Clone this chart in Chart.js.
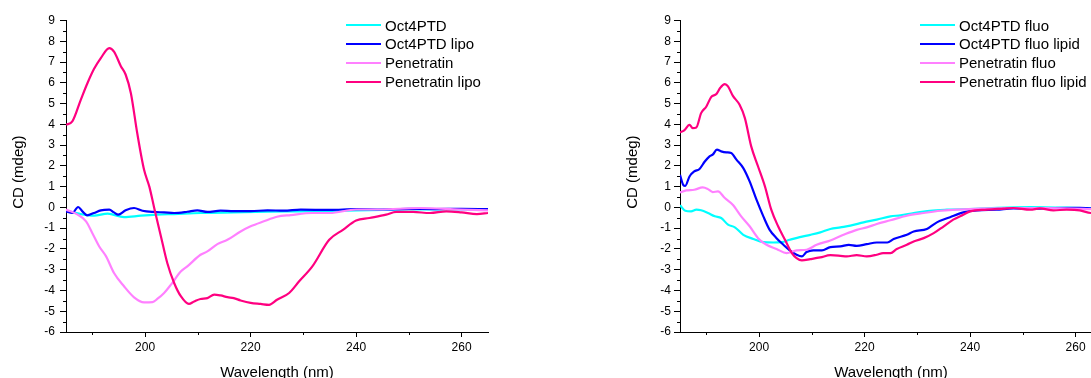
<!DOCTYPE html>
<html>
<head>
<meta charset="utf-8">
<script src="https://cdn.jsdelivr.net/npm/chart.js@4.4.0/dist/chart.umd.min.js"></script>
<style>
html, body { margin: 0; padding: 0; background: #fff; overflow: hidden; width: 1091px; height: 378px; }
.panel { position: absolute; top: 0; width: 500px; height: 400px; }
.panel canvas { position: absolute; left: 0; top: 0; }
.legend { position: absolute; top: 0; font: 15px "Liberation Sans", Arial, sans-serif; color: #000; }
.legend .row { position: absolute; left: 0; height: 19px; line-height: 19px; white-space: nowrap; }
.legend .swatch { position: absolute; left: 0; top: 8.5px; width: 35px; height: 2px; }
.legend .label { position: absolute; left: 39px; top: 0; }
</style>
</head>
<body>
<div class="panel" id="panelA" style="left:0px">
  <canvas id="chartA" width="500" height="400"></canvas>
  <div class="legend" id="legendA" style="left:346px"></div>
</div>
<div class="panel" id="panelB" style="left:614px">
  <canvas id="chartB" width="500" height="400"></canvas>
  <div class="legend" id="legendB" style="left:306px"></div>
</div>
<script>
// axis ticks
const xTicks = [200, 220, 240, 260];
const xMinor = [190, 210, 230, 250];
const yTicks = [-6, -5, -4, -3, -2, -1, 0, 1, 2, 3, 4, 5, 6, 7, 8, 9];
const yMinor = [-5.5, -4.5, -3.5, -2.5, -1.5, -0.5, 0.5, 1.5, 2.5, 3.5, 4.5, 5.5, 6.5, 7.5, 8.5];

const colors = ['#00ffff', '#0000ff', '#ff80ff', '#ff0080'];

// left panel - no fluorophore
const labelsA = ['Oct4PTD', 'Oct4PTD lipo', 'Penetratin', 'Penetratin lipo'];

const oct4X = [185, 187.8, 190.3, 192.9, 196, 199.2, 202.3, 205.5, 210.5, 216.8, 223.2, 229.5, 235, 240, 245, 250, 255, 260, 265];
const oct4Y = [-0.16, -0.32, -0.4, -0.3, -0.47, -0.4, -0.35, -0.32, -0.27, -0.24, -0.21, -0.19, -0.17, -0.15, -0.12, -0.1, -0.1, -0.1, -0.1];

const oct4LipoX = [185, 186.2, 187.3, 188.1, 189, 190.3, 191.6, 193.2, 194.1, 194.9, 196.3, 197.9, 199.5, 201.7, 203.6, 205.5, 208, 209.9, 211.8, 214.3, 216.8, 220, 223.2, 226.3, 229.5, 235, 240, 245, 250, 255, 260, 265];
const oct4LipoY = [-0.19, -0.27, 0.02, -0.19, -0.38, -0.27, -0.14, -0.11, -0.24, -0.35, -0.14, -0.03, -0.16, -0.22, -0.24, -0.27, -0.21, -0.14, -0.22, -0.16, -0.18, -0.18, -0.14, -0.16, -0.11, -0.12, -0.08, -0.1, -0.07, -0.08, -0.07, -0.08];

const penX = [185, 187.2, 188.8, 190, 191.3, 192.6, 194.1, 196, 197.9, 199.8, 201.4, 202.3, 203.6, 204.9, 206.8, 208, 210.5, 211.8, 213.7, 215.6, 218.1, 220, 222.5, 225, 227.6, 231.7, 235, 240, 244.4, 252, 259.7, 265];
const penY = [-0.1, -0.35, -0.67, -1.24, -1.88, -2.36, -3.16, -3.8, -4.33, -4.57, -4.56, -4.41, -4.12, -3.72, -3.08, -2.84, -2.28, -2.12, -1.77, -1.56, -1.16, -0.91, -0.67, -0.45, -0.37, -0.27, -0.27, -0.1, -0.1, -0.03, -0.1, -0.14];

const penLipoX = [185, 186.2, 187.8, 189.1, 190.3, 191.6, 193.2, 194.1, 195.4, 196.3, 197.3, 198.5, 199.8, 200.8, 201.7, 203, 204.2, 205.5, 206.8, 208.3, 209.3, 210.5, 211.8, 213.1, 214.3, 215.6, 216.8, 218.1, 220, 221.9, 223.5, 225, 227.3, 229.2, 231.7, 234.9, 237.5, 240, 242.5, 245.7, 247.6, 250.8, 254, 257.1, 260, 262.9, 265];
const penLipoY = [3.98, 4.14, 5.18, 6.0, 6.66, 7.19, 7.67, 7.5, 6.8, 6.4, 5.5, 3.58, 1.81, 1.0, 0, -1.4, -2.68, -3.64, -4.29, -4.65, -4.53, -4.41, -4.37, -4.2, -4.24, -4.32, -4.37, -4.48, -4.6, -4.65, -4.69, -4.45, -4.12, -3.56, -2.84, -1.56, -1.08, -0.63, -0.51, -0.35, -0.22, -0.22, -0.27, -0.19, -0.24, -0.32, -0.27];

// right panel - fluorescent labelled
const labelsB = ['Oct4PTD fluo', 'Oct4PTD fluo lipid', 'Penetratin fluo', 'Penetratin fluo lipid'];

const oct4FluoX = [185, 186, 187.1, 188.1, 189, 190.3, 191.6, 192.8, 194.1, 195.4, 197, 198.9, 200.8, 202.7, 204.3, 205.8, 207.7, 209.7, 211.6, 213.5, 215.4, 217.3, 219.8, 222.3, 224.9, 226.8, 229.3, 232.4, 235.6, 241.9, 251.4, 260.8, 265];
const oct4FluoY = [0.1, -0.16, -0.19, -0.11, -0.14, -0.27, -0.43, -0.51, -0.83, -0.96, -1.32, -1.52, -1.67, -1.69, -1.67, -1.56, -1.43, -1.32, -1.2, -1.04, -0.96, -0.88, -0.72, -0.59, -0.43, -0.38, -0.27, -0.16, -0.11, -0.06, 0.02, -0.03, -0.06];

const oct4FluoLipidX = [185, 185.6, 186, 186.8, 187.7, 188.7, 189.7, 190.6, 191.2, 192, 192.8, 193.8, 194.7, 195.7, 197, 198.2, 199.5, 200.8, 202, 203.3, 204.6, 205.8, 207.1, 208.1, 209, 210.3, 211.9, 213.5, 215.4, 217, 218.5, 220.4, 222.3, 224.3, 225.5, 228, 229.3, 231.8, 233.7, 236.2, 238.7, 241.3, 245, 248.2, 251.4, 255.8, 260.8, 265];
const oct4FluoLipidY = [1.57, 1.09, 1.04, 1.49, 1.73, 1.85, 2.21, 2.46, 2.54, 2.78, 2.7, 2.65, 2.62, 2.3, 1.89, 1.25, 0.37, -0.43, -1.08, -1.48, -1.8, -2.07, -2.28, -2.36, -2.15, -2.07, -2.07, -1.91, -1.88, -1.8, -1.85, -1.77, -1.69, -1.69, -1.52, -1.32, -1.16, -1.04, -0.72, -0.47, -0.24, -0.14, -0.11, -0.05, -0.06, -0.03, -0.02, -0.08];

const penFluoX = [185, 186.2, 187.7, 189.3, 190.3, 191.2, 192.2, 193.5, 195, 196.6, 198.2, 199.8, 201.4, 203.3, 205.2, 207.1, 209, 210.9, 213.5, 216, 218.5, 220.4, 222.3, 224.9, 228, 231.2, 234.3, 237.5, 241.9, 248.2, 254.5, 262.9, 265];
const penFluoY = [0.72, 0.82, 0.85, 0.96, 0.88, 0.74, 0.77, 0.45, 0.13, -0.43, -0.91, -1.48, -1.8, -2.0, -2.2, -2.07, -2.04, -1.8, -1.59, -1.32, -1.08, -0.96, -0.8, -0.62, -0.4, -0.27, -0.16, -0.11, -0.06, -0.03, -0.03, -0.08, -0.1];

const penFluoLipidX = [185, 185.8, 186.8, 187.4, 188.1, 189, 190, 190.9, 191.9, 192.6, 193.5, 194.1, 195, 196.3, 197.3, 198.5, 199.8, 201.1, 202.3, 203.6, 204.9, 206.2, 207.1, 208.1, 209.7, 211.6, 213.5, 215.4, 216.6, 218.5, 220.4, 222.3, 223.5, 224.9, 226.1, 228, 229.3, 231.2, 233.1, 235, 236.8, 238.7, 240, 243.2, 246.3, 248.2, 251.4, 253.2, 255.8, 258.3, 260.8, 262.9, 265];
const penFluoLipidY = [3.61, 3.71, 3.98, 3.82, 3.85, 4.54, 4.86, 5.31, 5.46, 5.75, 5.94, 5.83, 5.38, 4.94, 4.3, 2.94, 1.97, 1.01, -0.11, -0.91, -1.56, -2.2, -2.44, -2.55, -2.49, -2.41, -2.3, -2.33, -2.36, -2.3, -2.36, -2.28, -2.2, -2.2, -2.0, -1.8, -1.64, -1.48, -1.24, -0.91, -0.59, -0.35, -0.19, -0.11, -0.06, -0.03, -0.11, -0.05, -0.14, -0.11, -0.14, -0.27, -0.25];

const fontFamily = '"Liberation Sans", Arial, sans-serif';

// short minor tick marks, placed through the chart's own scales
const minorTicks = {
    id: 'minorTicks',
    afterDraw(chart) {
        const { ctx, chartArea } = chart;
        const x = chart.scales.x, y = chart.scales.y;
        ctx.save();
        ctx.strokeStyle = '#000';
        ctx.lineWidth = 1;
        ctx.beginPath();
        xMinor.forEach(v => {
            const px = Math.round(x.getPixelForValue(v)) + 0.5;
            ctx.moveTo(px, chartArea.bottom);
            ctx.lineTo(px, chartArea.bottom + 3);
        });
        yMinor.forEach(v => {
            const py = Math.round(y.getPixelForValue(v)) + 0.5;
            ctx.moveTo(chartArea.left - 3, py);
            ctx.lineTo(chartArea.left, py);
        });
        ctx.stroke();
        ctx.restore();
    }
};

function toPoints(xs, ys) {
    return xs.map((x, i) => ({ x: x, y: ys[i] }));
}

function makeChart(canvasId, labels, series, yPad) {
    const datasets = series.map((s, i) => ({
        label: labels[i],
        data: toPoints(s[0], s[1]),
        borderColor: colors[i],
        backgroundColor: colors[i],
        borderWidth: 2.2,
        pointRadius: 0,
        cubicInterpolationMode: 'monotone',
        fill: false,
        order: series.length - 1 - i
    }));

    return new Chart(document.getElementById(canvasId), {
        type: 'line',
        data: { datasets: datasets },
        options: {
            responsive: false,
            animation: false,
            layout: { padding: { top: 20.5, right: 12, left: 0, bottom: 0 } },
            plugins: { legend: { display: false }, tooltip: { enabled: false } },
            scales: {
                x: {
                    type: 'linear',
                    min: 185,
                    max: 265,
                    afterBuildTicks: s => { s.ticks = xTicks.map(v => ({ value: v })); },
                    afterFit: s => { s.height = 68; },
                    grid: { drawOnChartArea: false, tickLength: 5, color: '#000', tickColor: '#000' },
                    border: { color: '#000', width: 1 },
                    ticks: { autoSkip: false, maxRotation: 0, padding: 3, color: '#000', font: { family: fontFamily, size: 12 } },
                    title: { display: true, text: 'Wavelength (nm)', color: '#000', font: { family: fontFamily, size: 15 }, padding: { top: 0, bottom: 18.5 } }
                },
                y: {
                    min: -6,
                    max: 9,
                    afterBuildTicks: s => { s.ticks = yTicks.map(v => ({ value: v })); },
                    afterFit: s => { s.width = 66; },
                    grid: { drawOnChartArea: false, tickLength: 6, color: '#000', tickColor: '#000' },
                    border: { color: '#000', width: 1 },
                    ticks: { autoSkip: false, padding: yPad, color: '#000', font: { family: fontFamily, size: 12 } },
                    title: { display: true, text: '\u00a0\u00a0CD (mdeg)', color: '#000', font: { family: fontFamily, size: 15 }, padding: { top: 9.5, bottom: 0 } }
                }
            }
        },
        plugins: [minorTicks]
    });
}

function buildLegend(chart, el) {
    chart.data.datasets.forEach((ds, i) => {
        const row = document.createElement('div');
        row.className = 'row';
        row.style.top = (15.5 + i * 18.9) + 'px';
        row.innerHTML = '<span class="swatch" style="background:' + ds.borderColor + '"></span><span class="label">' + ds.label + '</span>';
        el.appendChild(row);
    });
}

const chartA = makeChart('chartA', labelsA, [[oct4X, oct4Y], [oct4LipoX, oct4LipoY], [penX, penY], [penLipoX, penLipoY]], 5);
const chartB = makeChart('chartB', labelsB, [[oct4FluoX, oct4FluoY], [oct4FluoLipidX, oct4FluoLipidY], [penFluoX, penFluoY], [penFluoLipidX, penFluoLipidY]], 3);

buildLegend(chartA, document.getElementById('legendA'));
buildLegend(chartB, document.getElementById('legendB'));
</script>
</body>
</html>
